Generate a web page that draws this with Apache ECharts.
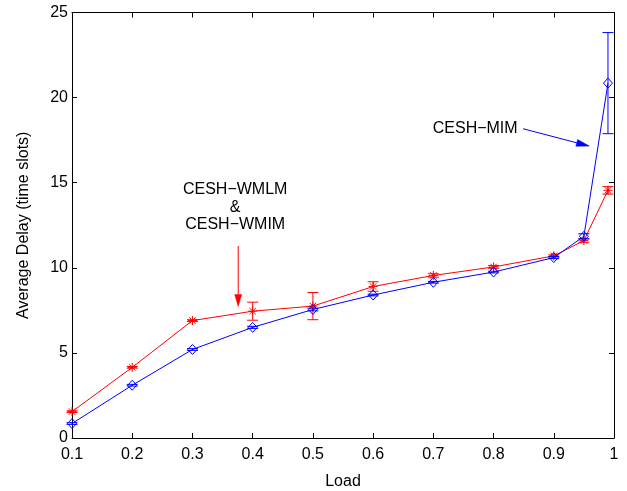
<!DOCTYPE html>
<html>
<head>
<meta charset="utf-8">
<script src="https://cdn.jsdelivr.net/npm/echarts@6/dist/echarts.min.js"></script>
<style>
  html, body { margin: 0; padding: 0; background: #fff; }
  #main { width: 627px; height: 491px; }
</style>
</head>
<body>
<div id="main"></div>
<script>
// Offered load values on the x axis
const loads = [0.1, 0.2, 0.3, 0.4, 0.5, 0.6, 0.7, 0.8, 0.9, 0.95, 0.99];

// CESH-WMLM / CESH-WMIM: mean delay and half-width of the confidence interval
const wmDelay = [1.55, 4.15, 6.9, 7.45, 7.75, 8.9, 9.55, 10.05, 10.7, 11.6, 14.55];
const wmErr   = [0.05, 0.05, 0.05, 0.53, 0.8, 0.28, 0.1, 0.08, 0.06, 0.1, 0.22];

// CESH-MIM: mean delay and half-width of the confidence interval
const mimDelay = [0.85, 3.1, 5.2, 6.5, 7.55, 8.4, 9.15, 9.75, 10.6, 11.85, 20.85];
const mimErr   = [0.05, 0.05, 0.05, 0.06, 0.08, 0.05, 0.05, 0.05, 0.06, 0.15, 2.97];

// Axis ticks
const xTicks = [0.1, 0.2, 0.3, 0.4, 0.5, 0.6, 0.7, 0.8, 0.9, 1];
const yTicks = [0, 5, 10, 15, 20, 25];

// Annotation texts
const wmLabel = ['CESH\u2212WMLM', '&', 'CESH\u2212WMIM'];
const mimLabel = 'CESH\u2212MIM';

const FONT = '"Liberation Sans", Arial, Helvetica, sans-serif';
const RED = '#ff0000';
const BLUE = '#0000ff';

const chart = echarts.init(document.getElementById('main'));

const pairs = ys => loads.map((x, i) => [x, ys[i]]);
const triples = (ys, es) => loads.map((x, i) => [x, ys[i], es[i]]);

function line(x1, y1, x2, y2, color) {
  return { type: 'line', shape: { x1, y1, x2, y2 }, style: { stroke: color, lineWidth: 1 } };
}

// Error bar with caps
function errorBar(color) {
  return function (params, api) {
    const x = api.value(0), y = api.value(1), e = api.value(2);
    const t = api.coord([x, y + e]);
    const b = api.coord([x, y - e]);
    const w = 5.5;
    return {
      type: 'group',
      children: [
        line(t[0], t[1], b[0], b[1], color),
        line(t[0] - w, t[1], t[0] + w, t[1], color),
        line(b[0] - w, b[1], b[0] + w, b[1], color)
      ]
    };
  };
}

// '*' marker
function asterisk(params, api) {
  const c = api.coord([api.value(0), api.value(1)]);
  const r = 4.5, d = 3.2;
  return {
    type: 'group',
    children: [
      line(c[0] - r, c[1], c[0] + r, c[1], RED),
      line(c[0], c[1] - r, c[0], c[1] + r, RED),
      line(c[0] - d, c[1] - d, c[0] + d, c[1] + d, RED),
      line(c[0] - d, c[1] + d, c[0] + d, c[1] - d, RED)
    ]
  };
}

// hollow diamond marker
function diamond(params, api) {
  const c = api.coord([api.value(0), api.value(1)]);
  const hw = 4.5, hh = 5;
  return {
    type: 'polygon',
    shape: { points: [[c[0], c[1] - hh], [c[0] + hw, c[1]], [c[0], c[1] + hh], [c[0] - hw, c[1]]] },
    style: { fill: 'none', stroke: BLUE, lineWidth: 1 }
  };
}

const tickStyle = { inside: true, length: 5, lineStyle: { color: '#000', width: 1 } };
const axisLine = { show: true, onZero: false, lineStyle: { color: '#000', width: 1 } };
const labelStyle = { color: '#000', fontSize: 16, fontFamily: FONT };

const xBase = {
  type: 'value',
  min: xTicks[0],
  max: xTicks[xTicks.length - 1],
  interval: 0.1,
  axisLine, axisTick: tickStyle,
  splitLine: { show: false }
};
const yBase = {
  type: 'value',
  min: yTicks[0],
  max: yTicks[yTicks.length - 1],
  interval: 5,
  axisLine, axisTick: tickStyle,
  splitLine: { show: false }
};

chart.setOption({
  animation: false,
  backgroundColor: '#fff',
  grid: {
    left: 72, right: 13, top: 12.5, bottom: 53,
    show: false, containLabel: false, outerBoundsMode: 'none'
  },
  xAxis: [
    Object.assign({}, xBase, {
      position: 'bottom',
      name: 'Load',
      nameLocation: 'middle',
      nameGap: 36,
      nameTextStyle: labelStyle,
      axisLabel: Object.assign({}, labelStyle, {
        margin: 9,
        formatter: v => String(Math.round(v * 10) / 10)
      })
    }),
    Object.assign({}, xBase, { position: 'top', axisLabel: { show: false } })
  ],
  yAxis: [
    Object.assign({}, yBase, {
      position: 'left',
      name: 'Average Delay (time slots)',
      nameLocation: 'middle',
      nameGap: 40,
      nameTextStyle: labelStyle,
      axisLabel: Object.assign({}, labelStyle, { margin: 4 })
    }),
    Object.assign({}, yBase, { position: 'right', axisLabel: { show: false } })
  ],
  series: [
    {
      type: 'line', data: pairs(wmDelay), symbol: 'none',
      lineStyle: { color: RED, width: 1 }, z: 2
    },
    {
      type: 'custom', data: triples(wmDelay, wmErr), renderItem: errorBar(RED),
      encode: { x: 0, y: 1 }, z: 3
    },
    {
      type: 'custom', data: pairs(wmDelay), renderItem: asterisk,
      encode: { x: 0, y: 1 }, z: 3
    },
    {
      type: 'line', data: pairs(mimDelay), symbol: 'none',
      lineStyle: { color: BLUE, width: 1 }, z: 4
    },
    {
      type: 'custom', data: triples(mimDelay, mimErr), renderItem: errorBar(BLUE),
      encode: { x: 0, y: 1 }, z: 5
    },
    {
      type: 'custom', data: pairs(mimDelay), renderItem: diamond,
      encode: { x: 0, y: 1 }, z: 5
    }
  ]
});

// Annotations placed in data coordinates
const px = (x, y) => chart.convertToPixel({ xAxisIndex: 0, yAxisIndex: 0 }, [x, y]);

function arrow(from, to, color, headLen, headHalf) {
  const a = px(from[0], from[1]);
  const b = px(to[0], to[1]);
  const dx = b[0] - a[0], dy = b[1] - a[1];
  const len = Math.hypot(dx, dy);
  const ux = dx / len, uy = dy / len;
  const bx = b[0] - ux * headLen, by = b[1] - uy * headLen;
  return [
    { type: 'line', shape: { x1: a[0], y1: a[1], x2: bx, y2: by }, style: { stroke: color, lineWidth: 1 } },
    {
      type: 'polygon',
      shape: { points: [[b[0], b[1]], [bx - uy * headHalf, by + ux * headHalf], [bx + uy * headHalf, by - ux * headHalf]] },
      style: { fill: color, stroke: color, lineWidth: 0.5 }
    }
  ];
}

function text(str, x, y, align) {
  const p = px(x, y);
  return {
    type: 'text', x: p[0], y: p[1],
    style: { text: str, fill: '#000', fontSize: 16, fontFamily: FONT, align, verticalAlign: 'middle' }
  };
}

const wmLabelY = [14.62, 13.52, 12.51];
const elements = []
  .concat(wmLabel.map((s, i) => text(s, 0.371, wmLabelY[i], 'center')))
  .concat(arrow([0.376, 11.28], [0.376, 7.72], RED, 12, 3.5))
  .concat([text(mimLabel, 0.699, 18.17, 'left')])
  .concat(arrow([0.849, 18.17], [0.959, 17.15], BLUE, 13, 3.5));

chart.setOption({ graphic: { elements } });
</script>
</body>
</html>
